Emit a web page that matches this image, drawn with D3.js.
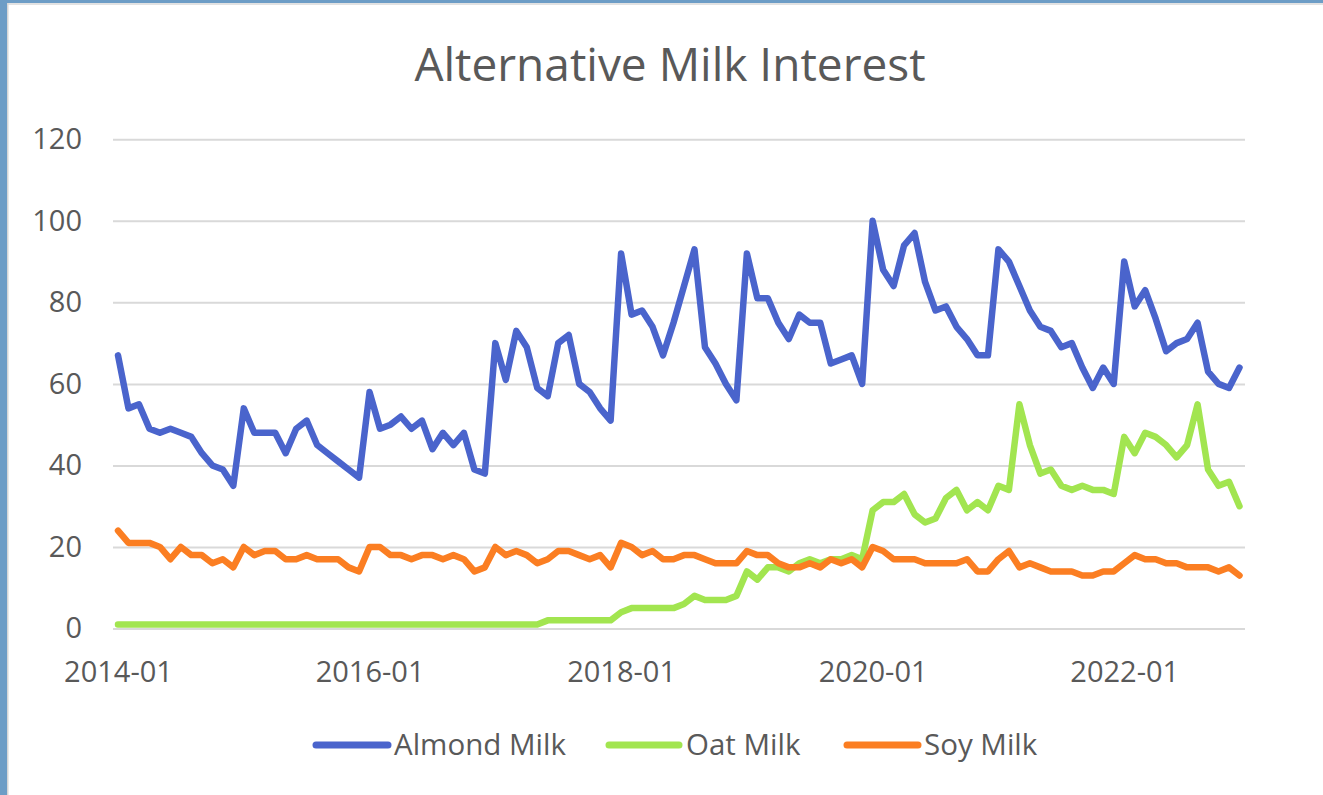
<!DOCTYPE html>
<html>
<head>
<meta charset="utf-8">
<script src="https://cdn.jsdelivr.net/npm/d3@7"></script>
<style>
  html, body { margin: 0; padding: 0; background: #ffffff; }
  svg { display: block; }
  text { font-family: "Open Sans", "Noto Sans", sans-serif; fill: #595959; }
</style>
</head>
<body>
<svg id="chart" width="1323" height="795"></svg>
<script>
// Monthly categories, 2014-01 .. 2022-12
const months = d3.timeMonths(new Date(2014, 0, 1), new Date(2023, 0, 1)).map(d3.timeFormat("%Y-%m"));

// Search interest (0-100) per month
const almondMilk = [
  67,54,55,49,48,49,48,47,43,40,39,35,
  54,48,48,48,43,49,51,45,43,41,39,37,
  58,49,50,52,49,51,44,48,45,48,39,38,
  70,61,73,69,59,57,70,72,60,58,54,51,
  92,77,78,74,67,75,84,93,69,65,60,56,
  92,81,81,75,71,77,75,75,65,66,67,60,
  100,88,84,94,97,85,78,79,74,71,67,67,
  93,90,84,78,74,73,69,70,64,59,64,60,
  90,79,83,76,68,70,71,75,63,60,59,64
];
const oatMilk = [
  1,1,1,1,1,1,1,1,1,1,1,1,
  1,1,1,1,1,1,1,1,1,1,1,1,
  1,1,1,1,1,1,1,1,1,1,1,1,
  1,1,1,1,1,2,2,2,2,2,2,2,
  4,5,5,5,5,5,6,8,7,7,7,8,
  14,12,15,15,14,16,17,16,17,17,18,17,
  29,31,31,33,28,26,27,32,34,29,31,29,
  35,34,55,45,38,39,35,34,35,34,34,33,
  47,43,48,47,45,42,45,55,39,35,36,30
];
const soyMilk = [
  24,21,21,21,20,17,20,18,18,16,17,15,
  20,18,19,19,17,17,18,17,17,17,15,14,
  20,20,18,18,17,18,18,17,18,17,14,15,
  20,18,19,18,16,17,19,19,18,17,18,15,
  21,20,18,19,17,17,18,18,17,16,16,16,
  19,18,18,16,15,15,16,15,17,16,17,15,
  20,19,17,17,17,16,16,16,16,17,14,14,
  17,19,15,16,15,14,14,14,13,13,14,14,
  16,18,17,17,16,16,15,15,15,14,15,13
];

const seriesNames = ["Almond Milk", "Oat Milk", "Soy Milk"];
const seriesColors = ["#4a64cc", "#a2e550", "#fb7e22"];
const xTickLabels = ["2014-01", "2016-01", "2018-01", "2020-01", "2022-01"];
const yTickValues = [0, 20, 40, 60, 80, 100, 120];

const series = [almondMilk, oatMilk, soyMilk].map((values, k) => ({
  name: seriesNames[k],
  color: seriesColors[k],
  values
}));

const svg = d3.select("#chart");

// Window frame edges
svg.append("rect").attr("x", 0).attr("y", 0).attr("width", 1323).attr("height", 795).attr("fill", "#ffffff");
svg.append("rect").attr("x", 0).attr("y", 0).attr("width", 1323).attr("height", 3).attr("fill", "#6d9dc6");
svg.append("rect").attr("x", 0).attr("y", 3).attr("width", 1323).attr("height", 2).attr("fill", "#e2e2e2");
svg.append("rect").attr("x", 0).attr("y", 0).attr("width", 7).attr("height", 795).attr("fill", "#6d9dc6");
svg.append("rect").attr("x", 7).attr("y", 3).attr("width", 1.5).attr("height", 792).attr("fill", "#d6d6d6");

// Plot geometry
const gridLeft = 113, gridRight = 1245;
const x = d3.scalePoint().domain(months).range([118, 1239.5]).padding(0);
const y = d3.scaleLinear().domain([0, 120]).range([628.5, 139.3]);

// Title
svg.append("text")
  .attr("x", 670).attr("y", 81)
  .attr("text-anchor", "middle")
  .style("font-size", "46px")
  .text("Alternative Milk Interest");

// Value axis with gridlines
const yAxis = svg.append("g")
  .attr("transform", `translate(${gridLeft},0)`)
  .call(d3.axisLeft(y).tickValues(yTickValues).tickSize(-(gridRight - gridLeft)).tickPadding(31));
yAxis.select(".domain").remove();
yAxis.selectAll(".tick line").attr("stroke", "#d9d9d9").attr("stroke-width", 2);
yAxis.selectAll(".tick text")
  .style("font-size", "29px")
  .style("font-family", "'Open Sans', sans-serif")
  .attr("fill", "#595959");

// Category axis labels
const xAxis = svg.append("g")
  .attr("transform", `translate(0,${y(0)})`)
  .call(d3.axisBottom(x).tickValues(xTickLabels).tickSize(0).tickPadding(33));
xAxis.select(".domain").remove();
xAxis.selectAll(".tick text")
  .style("font-size", "29px")
  .style("font-family", "'Open Sans', sans-serif")
  .attr("fill", "#595959");

// Series lines
const line = d3.line()
  .x((d, i) => x(months[i]))
  .y(d => y(d));

svg.append("g").selectAll("path")
  .data(series)
  .join("path")
  .attr("d", d => line(d.values))
  .attr("fill", "none")
  .attr("stroke", d => d.color)
  .attr("stroke-width", 6.5)
  .attr("stroke-linejoin", "round")
  .attr("stroke-linecap", "round");

// Legend
const legendItems = [
  { x0: 316, x1: 388, tx: 394 },
  { x0: 609, x1: 679, tx: 686 },
  { x0: 847, x1: 918, tx: 924 }
];
const legend = svg.append("g");
series.forEach((s, k) => {
  const it = legendItems[k];
  legend.append("line")
    .attr("x1", it.x0).attr("x2", it.x1)
    .attr("y1", 745).attr("y2", 745)
    .attr("stroke", s.color)
    .attr("stroke-width", 7)
    .attr("stroke-linecap", "round");
  legend.append("text")
    .attr("x", it.tx).attr("y", 755)
    .style("font-size", "29.5px")
    .text(s.name);
});
</script>
</body>
</html>
